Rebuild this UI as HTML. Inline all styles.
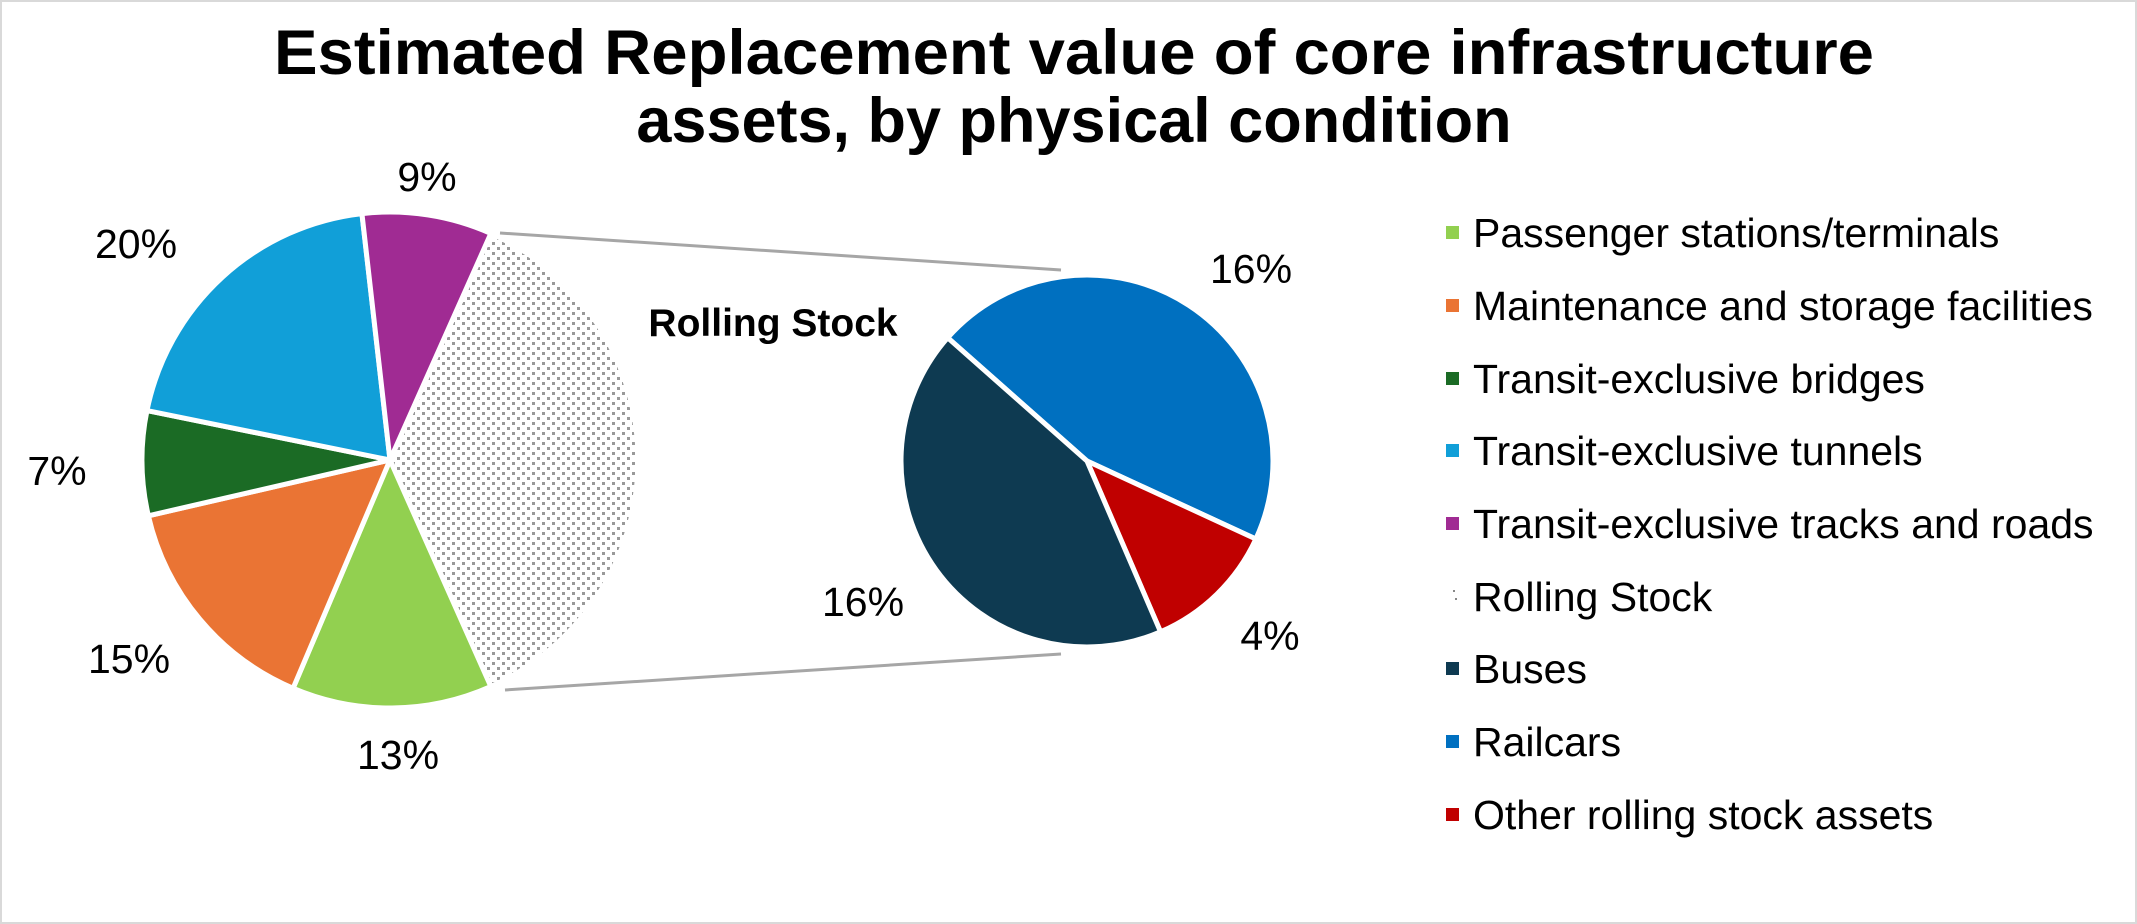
<!DOCTYPE html>
<html><head><meta charset="utf-8"><style>
html,body{margin:0;padding:0;background:#fff}
svg{display:block}
text{font-family:"Liberation Sans",Arial,sans-serif}
</style></head><body>
<svg width="2137" height="924" viewBox="0 0 2137 924" xmlns="http://www.w3.org/2000/svg">
<defs>
<pattern id="dots" width="10" height="10" patternUnits="userSpaceOnUse">
<rect width="10" height="10" fill="#fff"/>
<rect x="2" y="2" width="3" height="3" fill="#999"/>
<rect x="7" y="7" width="3" height="3" fill="#999"/>
</pattern>
</defs>
<rect x="1" y="1" width="2135" height="922" fill="#fff" stroke="#d9d9d9" stroke-width="2"/>
<text x="1074" y="74" font-size="63" font-weight="bold" text-anchor="middle" textLength="1600" lengthAdjust="spacingAndGlyphs">Estimated Replacement value of core infrastructure</text>
<text x="1074" y="142" font-size="63" font-weight="bold" text-anchor="middle">assets, by physical condition</text>

<line x1="500" y1="233" x2="1061" y2="270" stroke="#a6a6a6" stroke-width="3"/>
<line x1="505" y1="690" x2="1061" y2="654" stroke="#a6a6a6" stroke-width="3"/>

<g id="left" stroke="#fff" stroke-width="5" stroke-linejoin="round"></g>
<g id="right" stroke="#fff" stroke-width="5" stroke-linejoin="round"></g>

<g font-size="41" fill="#000" text-anchor="middle">
<text x="427" y="191">9%</text>
<text x="136" y="258">20%</text>
<text x="57" y="485">7%</text>
<text x="129" y="673">15%</text>
<text x="398" y="769">13%</text>
<text x="1251" y="283">16%</text>
<text x="863" y="616">16%</text>
<text x="1270" y="650">4%</text>
</g>
<text x="773" y="336" font-size="39" font-weight="bold" text-anchor="middle">Rolling Stock</text>

<g font-size="41" fill="#000">
<rect x="1446" y="226" width="13" height="13" fill="#92d050"/><text x="1473" y="247">Passenger stations/terminals</text>
<rect x="1446" y="299" width="13" height="13" fill="#ea7434"/><text x="1473" y="320">Maintenance and storage facilities</text>
<rect x="1446" y="372" width="13" height="13" fill="#1b6b25"/><text x="1473" y="393">Transit-exclusive bridges</text>
<rect x="1446" y="444" width="13" height="13" fill="#119fd8"/><text x="1473" y="465">Transit-exclusive tunnels</text>
<rect x="1446" y="517" width="13" height="13" fill="#a02b93"/><text x="1473" y="538">Transit-exclusive tracks and roads</text>
<rect x="1453" y="590" width="2" height="2" fill="#888"/><rect x="1455" y="598" width="2" height="2" fill="#888"/><text x="1473" y="611">Rolling Stock</text>
<rect x="1446" y="662" width="13" height="13" fill="#0e3a51"/><text x="1473" y="683">Buses</text>
<rect x="1446" y="735" width="13" height="13" fill="#0070c0"/><text x="1473" y="756">Railcars</text>
<rect x="1446" y="808" width="13" height="13" fill="#c00000"/><text x="1473" y="829">Other rolling stock assets</text>
</g>
<script>
function arc(cx,cy,r,a0,a1,fill,g){
 const p=a=>[cx+r*Math.sin(a*Math.PI/180),cy-r*Math.cos(a*Math.PI/180)];
 const s=p(a0),e=p(a1),large=(a1-a0)>180?1:0;
 const el=document.createElementNS("http://www.w3.org/2000/svg","path");
 el.setAttribute("d",`M${cx},${cy}L${s[0]},${s[1]}A${r},${r} 0 ${large} 1 ${e[0]},${e[1]}Z`);
 el.setAttribute("fill",fill);
 document.getElementById(g).appendChild(el);
}
const L=[[24,156,"url(#dots)"],[156,203,"#92d050"],[203,257,"#ea7434"],[257,281.5,"#1b6b25"],[281.5,353.5,"#119fd8"],[353.5,384,"#a02b93"]];
L.forEach(s=>arc(390,460,248,s[0],s[1],s[2],"left"));
const R=[[-48.5,114.8,"#0070c0"],[114.8,156.7,"#c00000"],[156.7,311.5,"#0e3a51"]];
R.forEach(s=>arc(1087,461,186,s[0],s[1],s[2],"right"));
</script>
</svg>
</body></html>
